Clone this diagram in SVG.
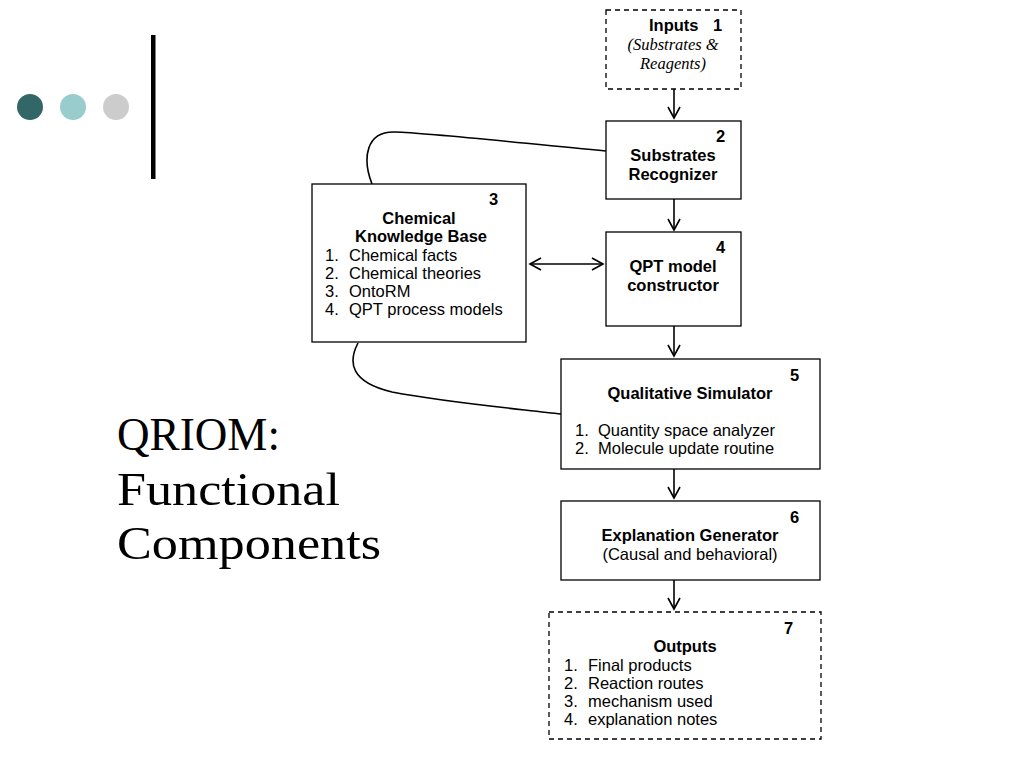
<svg xmlns="http://www.w3.org/2000/svg" width="1024" height="768" viewBox="0 0 1024 768">
<defs>
<style>
.box{fill:#fff;stroke:#000;stroke-width:1.3}
.dash{fill:#fff;stroke:#000;stroke-width:1.3;stroke-dasharray:5,4}
.b{font-family:"Liberation Sans",Arial,sans-serif;font-size:16.5px;font-weight:bold;fill:#000}
.r{font-family:"Liberation Sans",Arial,sans-serif;font-size:16.5px;fill:#000}
.i{font-family:"Liberation Serif","Times New Roman",serif;font-size:16.5px;font-style:italic;fill:#000}
.t{font-family:"Liberation Serif","Times New Roman",serif;font-size:47px;fill:#000}
.c{stroke:#000;stroke-width:1.6;fill:none}
</style>
<marker id="ah" viewBox="0 0 14 14" refX="12" refY="7" markerWidth="14" markerHeight="14" markerUnits="userSpaceOnUse" orient="auto-start-reverse">
<path d="M1,1 L12,7 L1,13" fill="none" stroke="#000" stroke-width="1.6"/>
</marker>
</defs>
<rect width="1024" height="768" fill="#fff"/>
<g id="decor">
<circle cx="30" cy="107" r="13" fill="#336666"/>
<circle cx="73" cy="107" r="13" fill="#99cccc"/>
<circle cx="116" cy="107" r="13" fill="#cccccc"/>
<rect x="151" y="35" width="4.5" height="144" fill="#000"/>
</g>
<g id="title">
<text class="t" x="117" y="450" textLength="163" lengthAdjust="spacingAndGlyphs">QRIOM:</text>
<text class="t" x="117" y="505" textLength="223" lengthAdjust="spacingAndGlyphs">Functional</text>
<text class="t" x="117" y="559" textLength="264" lengthAdjust="spacingAndGlyphs">Components</text>
</g>
<g id="connectors">
<line class="c" x1="674" y1="89" x2="674" y2="118" marker-end="url(#ah)"/>
<line class="c" x1="674" y1="199" x2="674" y2="230" marker-end="url(#ah)"/>
<line class="c" x1="674" y1="326" x2="674" y2="356" marker-end="url(#ah)"/>
<line class="c" x1="674" y1="469" x2="674" y2="498" marker-end="url(#ah)"/>
<line class="c" x1="674" y1="580" x2="674" y2="609" marker-end="url(#ah)"/>
<line class="c" x1="530" y1="264" x2="603" y2="264" marker-start="url(#ah)" marker-end="url(#ah)"/>
<path class="c" d="M606,151 C520,143 430,133 395,132 C366,131 362,158 372,184"/>
<path class="c" d="M358,343 C348,362 350,382 392,392 C450,403 520,409 561,414"/>
</g>
<g id="n1">
<rect class="dash" x="606" y="10" width="135" height="79"/>
<text class="b" x="649" y="31">Inputs</text>
<text class="b" x="713" y="31">1</text>
<text class="i" x="673" y="50" text-anchor="middle">(Substrates &amp;</text>
<text class="i" x="673" y="69" text-anchor="middle">Reagents)</text>
</g>
<g id="n2">
<rect class="box" x="606" y="121" width="135" height="78"/>
<text class="b" x="716" y="142">2</text>
<text class="b" x="673" y="161" text-anchor="middle">Substrates</text>
<text class="b" x="673" y="180" text-anchor="middle">Recognizer</text>
</g>
<g id="n3">
<rect class="box" x="312" y="184" width="214" height="158"/>
<text class="b" x="489" y="205">3</text>
<text class="b" x="419" y="224" text-anchor="middle">Chemical</text>
<text class="b" x="421" y="242" text-anchor="middle">Knowledge Base</text>
<text class="r" x="325" y="261">1.</text><text class="r" x="349" y="261">Chemical facts</text>
<text class="r" x="325" y="279">2.</text><text class="r" x="349" y="279">Chemical theories</text>
<text class="r" x="325" y="297">3.</text><text class="r" x="349" y="297">OntoRM</text>
<text class="r" x="325" y="315">4.</text><text class="r" x="349" y="315">QPT process models</text>
</g>
<g id="n4">
<rect class="box" x="606" y="232" width="135" height="94"/>
<text class="b" x="716" y="253">4</text>
<text class="b" x="673" y="272" text-anchor="middle">QPT model</text>
<text class="b" x="673" y="291" text-anchor="middle">constructor</text>
</g>
<g id="n5">
<rect class="box" x="561" y="359" width="259" height="110"/>
<text class="b" x="790" y="381">5</text>
<text class="b" x="690" y="399" text-anchor="middle">Qualitative Simulator</text>
<text class="r" x="575" y="436">1.</text><text class="r" x="598" y="436">Quantity space analyzer</text>
<text class="r" x="575" y="454">2.</text><text class="r" x="598" y="454">Molecule update routine</text>
</g>
<g id="n6">
<rect class="box" x="561" y="501" width="259" height="79"/>
<text class="b" x="790" y="523">6</text>
<text class="b" x="690" y="541" text-anchor="middle">Explanation Generator</text>
<text class="r" x="690" y="560" text-anchor="middle">(Causal and behavioral)</text>
</g>
<g id="n7">
<rect class="dash" x="549" y="612" width="272" height="127"/>
<text class="b" x="784" y="634">7</text>
<text class="b" x="685" y="652" text-anchor="middle">Outputs</text>
<text class="r" x="564" y="671">1.</text><text class="r" x="588" y="671">Final products</text>
<text class="r" x="564" y="689">2.</text><text class="r" x="588" y="689">Reaction routes</text>
<text class="r" x="564" y="707">3.</text><text class="r" x="588" y="707">mechanism used</text>
<text class="r" x="564" y="725">4.</text><text class="r" x="588" y="725">explanation notes</text>
</g>
</svg>
